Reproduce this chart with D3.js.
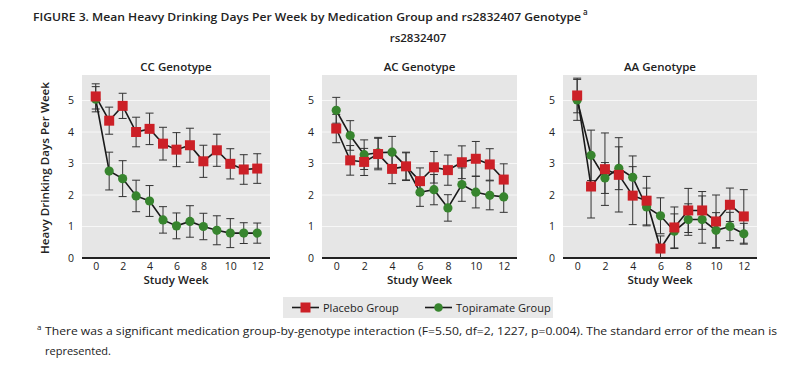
<!DOCTYPE html>
<html>
<head>
	<title>Figure 3 - Heavy Drinking Days by Genotype</title>
	<script src="https://cdnjs.cloudflare.com/ajax/libs/d3/7.8.5/d3.min.js"></script>
	<style>
		body { margin: 0; background: #fff; }
		svg text { font-family: "Open Sans", "DejaVu Sans", sans-serif; fill: #222; }
	</style>
</head>
<body>
	<svg id="fig" width="800" height="371"></svg>
	<script type="text/javascript">
		// values (means and standard errors)
		const weeks = [0, 1, 2, 3, 4, 5, 6, 7, 8, 9, 10, 11, 12];
		const weekTicks = [0, 2, 4, 6, 8, 10, 12];
		const dayTicks = [0, 1, 2, 3, 4, 5];
		const genotypes = ["CC Genotype", "AC Genotype", "AA Genotype"];
		const groups = ["Placebo Group", "Topiramate Group"];

		const placeboCC = [5.13, 4.36, 4.83, 4.0, 4.1, 3.63, 3.44, 3.58, 3.07, 3.42, 2.99, 2.81, 2.84];
		const placeboCCse = [0.4, 0.43, 0.4, 0.47, 0.5, 0.52, 0.54, 0.54, 0.51, 0.51, 0.48, 0.47, 0.47];
		const topiramateCC = [5.04, 2.76, 2.52, 1.97, 1.81, 1.21, 1.02, 1.16, 1.0, 0.88, 0.79, 0.79, 0.79];
		const topiramateCCse = [0.4, 0.6, 0.57, 0.5, 0.49, 0.42, 0.41, 0.5, 0.42, 0.46, 0.46, 0.33, 0.32];

		const placeboAC = [4.11, 3.1, 3.05, 3.3, 2.83, 2.91, 2.44, 2.88, 2.79, 3.04, 3.15, 2.97, 2.49];
		const placeboACse = [0.45, 0.47, 0.43, 0.5, 0.47, 0.45, 0.42, 0.5, 0.48, 0.52, 0.55, 0.5, 0.5];
		const topiramateAC = [4.69, 3.89, 3.28, 3.34, 3.36, 2.91, 2.09, 2.17, 1.59, 2.33, 2.09, 1.99, 1.94];
		const topiramateACse = [0.41, 0.47, 0.47, 0.49, 0.5, 0.43, 0.45, 0.48, 0.42, 0.53, 0.5, 0.46, 0.49];

		const placeboAA = [5.16, 2.27, 2.82, 2.64, 1.98, 1.82, 0.3, 0.97, 1.51, 1.51, 1.16, 1.69, 1.32];
		const placeboAAse = [0.55, 1.0, 1.15, 1.18, 0.92, 0.77, 0.4, 0.65, 0.7, 0.6, 0.84, 0.53, 0.85];
		const topiramateAA = [5.02, 3.26, 2.54, 2.85, 2.56, 1.62, 1.34, 0.85, 1.22, 1.22, 0.88, 1.0, 0.77];
		const topiramateAAse = [0.65, 0.8, 0.49, 0.68, 0.68, 0.6, 0.57, 0.55, 0.5, 0.75, 0.56, 0.45, 0.33];

		const placebo = [placeboCC, placeboAC, placeboAA];
		const placeboSe = [placeboCCse, placeboACse, placeboAAse];
		const topiramate = [topiramateCC, topiramateAC, topiramateAA];
		const topiramateSe = [topiramateCCse, topiramateACse, topiramateAAse];

		const red = "#cc2027";
		const green = "#37852e";

		const svg = d3.select("#fig");

		// layout of the three panels
		const panelLeft = [82, 322, 563];
		const panelWidth = [188, 195, 194];
		const plotTop = 75, plotBottom = 258;

		const y = d3.scaleLinear().domain([0, 5.81]).range([plotBottom, plotTop]);

		svg.append("text")
			.attr("x", 33).attr("y", 21)
			.attr("font-size", 11.5).attr("font-weight", 600)
			.attr("textLength", 548).attr("lengthAdjust", "spacingAndGlyphs")
			.text("FIGURE 3. Mean Heavy Drinking Days Per Week by Medication Group and rs2832407 Genotype");
		svg.append("text")
			.attr("x", 583).attr("y", 15)
			.attr("font-size", 8).attr("font-weight", 600)
			.text("a");
		svg.append("text")
			.attr("x", 418).attr("y", 42)
			.attr("text-anchor", "middle")
			.attr("font-size", 11.5).attr("font-weight", 600)
			.text("rs2832407");

		svg.append("text")
			.attr("transform", "translate(49,168) rotate(-90)")
			.attr("text-anchor", "middle")
			.attr("font-size", 11.5).attr("font-weight", 600)
			.attr("textLength", 172).attr("lengthAdjust", "spacingAndGlyphs")
			.text("Heavy Drinking Days Per Week");

		genotypes.forEach(function(name, i) {
			const left = panelLeft[i], w = panelWidth[i];
			const x = d3.scaleLinear().domain([-1.02, 12.95]).range([left, left + w]);
			const g = svg.append("g");

			g.append("rect")
				.attr("x", left).attr("y", plotTop)
				.attr("width", w).attr("height", plotBottom - plotTop)
				.attr("fill", "#e6e6e6");

			// faint white grid
			g.selectAll(".grid").data(dayTicks.slice(1)).join("line")
				.attr("x1", left).attr("x2", left + w)
				.attr("y1", d => y(d)).attr("y2", d => y(d))
				.attr("stroke", "#f7f7f7").attr("stroke-width", 1);

			const yAxis = g.append("g")
				.attr("transform", "translate(" + left + ",0)")
				.call(d3.axisLeft(y).tickValues(dayTicks).tickFormat(d3.format("d")).tickSize(0).tickPadding(8));
			yAxis.select(".domain").remove();
			yAxis.selectAll("text").attr("font-size", 10.5).attr("fill", "#222");

			const xAxis = g.append("g")
				.attr("transform", "translate(0," + plotBottom + ")")
				.call(d3.axisBottom(x).tickValues(weekTicks).tickSize(0).tickPadding(5));
			xAxis.select(".domain").attr("stroke", "#222").attr("stroke-width", 2)
				.attr("d", "M" + left + ",0H" + (left + w));
			xAxis.selectAll("text").attr("font-size", 10.5).attr("fill", "#222");

			g.append("text")
				.attr("x", left + w / 2).attr("y", 71)
				.attr("text-anchor", "middle")
				.attr("font-size", 11.5).attr("font-weight", 600)
				.text(name);
			g.append("text")
				.attr("x", left + w / 2).attr("y", 284)
				.attr("text-anchor", "middle")
				.attr("font-size", 11.5).attr("font-weight", 600)
				.text("Study Week");

			const series = [
				{ vals: placebo[i], se: placeboSe[i], color: red, shape: "square" },
				{ vals: topiramate[i], se: topiramateSe[i], color: green, shape: "circle" }
			];

			// error bars first, then lines, then markers
			series.forEach(function(s) {
				const pts = weeks.map((wk, j) => ({ wk: wk, v: s.vals[j], e: s.se[j] }));
				const eb = g.append("g").attr("stroke", "#333").attr("stroke-width", 1);
				eb.selectAll("line.v").data(pts).join("line")
					.attr("x1", d => x(d.wk)).attr("x2", d => x(d.wk))
					.attr("y1", d => y(d.v + d.e)).attr("y2", d => y(Math.max(0, d.v - d.e)));
				eb.selectAll("line.t").data(pts).join("line")
					.attr("x1", d => x(d.wk) - 4).attr("x2", d => x(d.wk) + 4)
					.attr("y1", d => y(d.v + d.e)).attr("y2", d => y(d.v + d.e));
				eb.selectAll("line.b").data(pts.filter(d => d.v - d.e > 0)).join("line")
					.attr("x1", d => x(d.wk) - 4).attr("x2", d => x(d.wk) + 4)
					.attr("y1", d => y(d.v - d.e)).attr("y2", d => y(d.v - d.e));
			});
			series.forEach(function(s) {
				const line = d3.line().x((d, j) => x(weeks[j])).y(d => y(d));
				g.append("path").datum(s.vals)
					.attr("d", line)
					.attr("fill", "none").attr("stroke", "#1a1a1a").attr("stroke-width", 1.6);
			});
			series.slice().reverse().forEach(function(s) {
				if (s.shape === "square") {
					g.selectAll(null).data(s.vals).join("rect")
						.attr("x", (d, j) => x(weeks[j]) - 5).attr("y", d => y(d) - 5)
						.attr("width", 10).attr("height", 10)
						.attr("fill", s.color);
				} else {
					g.selectAll(null).data(s.vals).join("circle")
						.attr("cx", (d, j) => x(weeks[j])).attr("cy", d => y(d))
						.attr("r", 4.6)
						.attr("fill", s.color);
				}
			});
		});

		// legend
		const lg = svg.append("g");
		lg.append("rect").attr("x", 283).attr("y", 297).attr("width", 270).attr("height", 21).attr("fill", "#e8e8e8");
		const legendX = [292, 425];
		groups.forEach(function(name, i) {
			const lx = legendX[i];
			lg.append("line").attr("x1", lx).attr("x2", lx + 27).attr("y1", 307.5).attr("y2", 307.5)
				.attr("stroke", "#1a1a1a").attr("stroke-width", 1.6);
			if (i === 0) {
				lg.append("rect").attr("x", lx + 13.5 - 5).attr("y", 302.5).attr("width", 10).attr("height", 10).attr("fill", red);
			} else {
				lg.append("circle").attr("cx", lx + 13.5).attr("cy", 307.5).attr("r", 4.3).attr("fill", green);
			}
			lg.append("text").attr("x", lx + 31).attr("y", 311.5)
				.attr("font-size", 11).text(name);
		});

		// footnote
		svg.append("text").attr("x", 37).attr("y", 330).attr("font-size", 8).text("a");
		svg.append("text").attr("x", 45).attr("y", 335)
			.attr("font-size", 11)
			.attr("textLength", 732).attr("lengthAdjust", "spacingAndGlyphs")
			.text("There was a significant medication group-by-genotype interaction (F=5.50, df=2, 1227, p=0.004). The standard error of the mean is");
		svg.append("text").attr("x", 45).attr("y", 355)
			.attr("font-size", 11)
			.text("represented.");
	</script>
</body>
</html>
